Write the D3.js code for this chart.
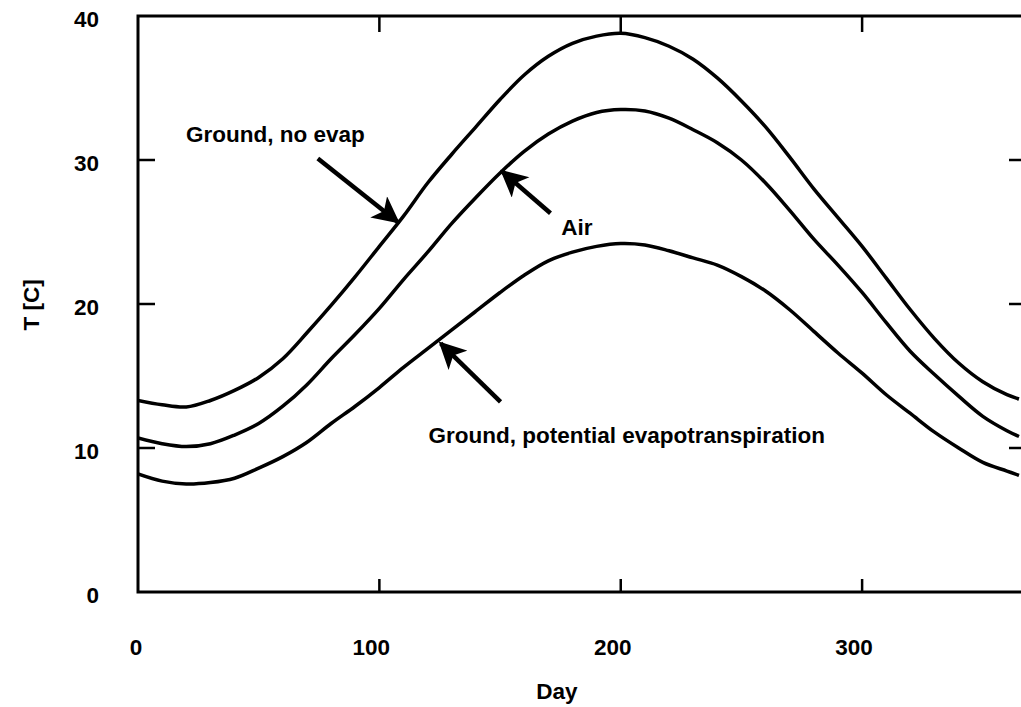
<!DOCTYPE html>
<html>
<head>
<meta charset="utf-8">
<script src="https://cdn.jsdelivr.net/npm/d3@7"></script>
<style>
  html, body { margin: 0; padding: 0; background: #fff; }
  svg { display: block; }
  text { font-family: "Liberation Sans", Arial, Helvetica, sans-serif; font-weight: bold; fill: #000; }
</style>
</head>
<body>
<svg id="chart" width="1021" height="707"></svg>
<script>
// Day of year at which the temperatures are sampled
const days = [0, 10, 20, 30, 40, 50, 60, 70, 80, 90, 100, 110, 120, 130, 140, 150, 160, 170, 180,
  190, 200, 210, 220, 230, 240, 250, 260, 270, 280, 290, 300, 310, 320, 330, 340, 350, 360, 365];

// Ground temperature without evaporation [C]
const groundNoEvap = [13.3, 13.0, 12.85, 13.3, 14.0, 14.9, 16.2, 18.0, 19.9, 21.9, 24.0, 26.1, 28.4,
  30.4, 32.3, 34.2, 35.9, 37.2, 38.1, 38.6, 38.8, 38.5, 37.9, 37.0, 35.7, 34.1, 32.3, 30.2, 28.0,
  26.0, 24.0, 21.8, 19.6, 17.6, 15.9, 14.6, 13.7, 13.4];

// Air temperature [C]
const air = [10.7, 10.3, 10.1, 10.3, 10.9, 11.7, 12.9, 14.4, 16.2, 17.9, 19.7, 21.7, 23.6, 25.6,
  27.4, 29.1, 30.6, 31.8, 32.7, 33.3, 33.5, 33.4, 32.9, 32.1, 31.2, 30.0, 28.4, 26.5, 24.5, 22.7,
  20.8, 18.7, 16.7, 15.1, 13.6, 12.2, 11.2, 10.8];

// Ground temperature with potential evapotranspiration [C]
const groundPET = [8.2, 7.7, 7.5, 7.6, 7.9, 8.6, 9.4, 10.4, 11.7, 12.9, 14.2, 15.6, 16.9, 18.2,
  19.5, 20.8, 22.0, 23.0, 23.6, 24.0, 24.2, 24.1, 23.7, 23.2, 22.7, 21.9, 20.9, 19.6, 18.1, 16.6,
  15.2, 13.7, 12.4, 11.1, 10.0, 9.0, 8.4, 8.1];

const xTicks = [0, 100, 200, 300];
const yTicks = [0, 10, 20, 30, 40];

// Curve annotations: label anchor, arrow tail and arrow tip, all in (day, T)
const labels = ["Ground, no evap", "Air", "Ground, potential evapotranspiration"];
const labelAt = [[19.9, 31.25], [175.4, 24.8], [120.4, 10.35]];
const arrowFrom = [[74.5, 30.1], [170.9, 26.3], [150.2, 13.2]];
const arrowTo = [[107.6, 25.7], [150.9, 29.2], [125.4, 17.27]];

const svg = d3.select("#chart");
const plotL = 138, plotR = 1019, plotT = 16, plotB = 592;

const x = d3.scaleLinear().domain([0, 365]).range([plotL, plotR]);
const y = d3.scaleLinear().domain([0, 40]).range([plotB, plotT]);

// Frame
svg.append("rect")
  .attr("x", plotL).attr("y", plotT)
  .attr("width", plotR - plotL + 4).attr("height", plotB - plotT)
  .attr("fill", "none").attr("stroke", "#000").attr("stroke-width", 3);

// Inward ticks on all four sides
const axes = svg.append("g").attr("stroke", "#000").attr("stroke-width", 2.5);
xTicks.filter(d => d > 0).forEach(d => {
  axes.append("line").attr("x1", x(d)).attr("x2", x(d)).attr("y1", plotB).attr("y2", plotB - 13);
  axes.append("line").attr("x1", x(d)).attr("x2", x(d)).attr("y1", plotT).attr("y2", plotT + 16);
});
yTicks.filter(d => d > 0 && d < 40).forEach(d => {
  axes.append("line").attr("x1", plotL).attr("x2", plotL + 17).attr("y1", y(d)).attr("y2", y(d));
  axes.append("line").attr("x1", 1021).attr("x2", 1009).attr("y1", y(d)).attr("y2", y(d));
});

// Tick labels
svg.append("g").selectAll("text").data(yTicks).join("text")
  .attr("x", 99).attr("y", d => y(d) + 11)
  .attr("text-anchor", "end").attr("font-size", 22.5)
  .text(d => d);

svg.append("g").selectAll("text").data(xTicks).join("text")
  .attr("x", d => x(d) - (d === 0 ? 2 : 8)).attr("y", 655)
  .attr("text-anchor", "middle").attr("font-size", 22.5)
  .text(d => d);

// Axis titles
svg.append("text").attr("x", 557).attr("y", 699)
  .attr("text-anchor", "middle").attr("font-size", 22.5).text("Day");
svg.append("text")
  .attr("transform", "translate(39,305) rotate(-90)")
  .attr("text-anchor", "middle").attr("font-size", 22.5).text("T [C]");

// Temperature curves
const line = d3.line()
  .x(d => x(d[0]))
  .y(d => y(d[1]))
  .curve(d3.curveCatmullRom);

svg.append("clipPath").attr("id", "plotClip")
  .append("rect").attr("x", plotL).attr("y", plotT).attr("width", 1021 - plotL).attr("height", plotB - plotT);

const series = [groundNoEvap, air, groundPET];
svg.append("g").attr("clip-path", "url(#plotClip)")
  .selectAll("path").data(series).join("path")
  .attr("d", vals => line(days.map((d, i) => [d, vals[i]])))
  .attr("fill", "none").attr("stroke", "#000").attr("stroke-width", 3.5)
  .attr("stroke-linejoin", "round");

// Arrows pointing at the curves
const defs = svg.append("defs");
defs.append("marker")
  .attr("id", "head")
  .attr("viewBox", "0 0 10 10")
  .attr("refX", 9).attr("refY", 5)
  .attr("markerWidth", 6.2).attr("markerHeight", 6)
  .attr("markerUnits", "strokeWidth")
  .attr("orient", "auto")
  .append("path").attr("d", "M0,0 L10,5 L0,10 L2.5,5 Z").attr("fill", "#000");

svg.append("g").selectAll("line").data(arrowFrom).join("line")
  .attr("x1", d => x(d[0])).attr("y1", d => y(d[1]))
  .attr("x2", (d, i) => x(arrowTo[i][0])).attr("y2", (d, i) => y(arrowTo[i][1]))
  .attr("stroke", "#000").attr("stroke-width", 4.5)
  .attr("marker-end", "url(#head)");

svg.append("g").selectAll("text").data(labels).join("text")
  .attr("x", (d, i) => x(labelAt[i][0])).attr("y", (d, i) => y(labelAt[i][1]))
  .attr("font-size", 22.5)
  .text(d => d);
</script>
</body>
</html>
